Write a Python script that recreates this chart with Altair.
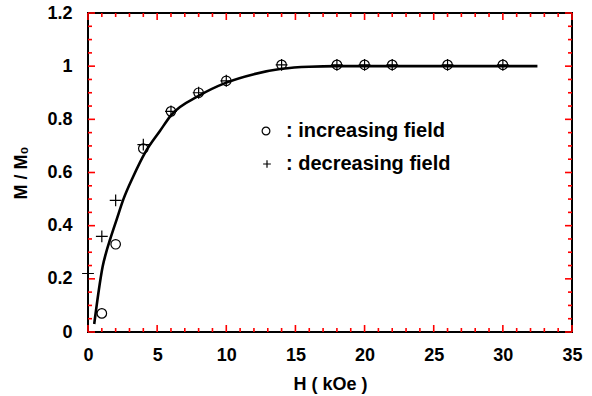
import altair as alt
import pandas as pd

# measured data: increasing field (circles)
inc_H = [1, 2, 4, 6, 8, 10, 14, 18, 20, 22, 26, 30]
inc_M = [0.07, 0.33, 0.69, 0.83, 0.90, 0.945, 1.005, 1.005, 1.005, 1.005, 1.005, 1.005]
# decreasing field (crosses)
dec_H = [0, 1, 2, 4, 6, 8, 10, 14, 18, 20, 22, 26, 30]
dec_M = [0.22, 0.36, 0.495, 0.705, 0.83, 0.90, 0.945, 1.005, 1.005, 1.005, 1.005, 1.005, 1.005]
# fitted curve
fit_H = [0.45, 0.75, 1.06, 1.3, 1.59, 2.07, 2.55, 3.28, 4.12, 5.2, 6.0, 8.0, 10.0, 12.0, 14.0, 16.0, 18.0, 24.0, 32.5]
fit_M = [0.03, 0.146, 0.246, 0.297, 0.347, 0.423, 0.498, 0.586, 0.674, 0.756, 0.815, 0.888, 0.938, 0.970, 0.99, 0.998, 1.0, 1.0, 1.0]

legend_labels = [": increasing field", ": decreasing field"]
x_major = [0, 5, 10, 15, 20, 25, 30, 35]
x_minor = [v for v in range(0, 36) if v % 5 != 0]
y_major = [0, 0.2, 0.4, 0.6, 0.8, 1.0, 1.2]
y_minor = [0.05, 0.1, 0.15, 0.25, 0.3, 0.35, 0.45, 0.5, 0.55, 0.65, 0.7, 0.75,
           0.85, 0.9, 0.95, 1.05, 1.1, 1.15]

W, HGT = 484, 319
MAJ, MIN = 7, 4
PLUS = "M-1,0H1M0,-1V1"

inc_df = pd.DataFrame({"H": inc_H, "M": inc_M})
dec_df = pd.DataFrame({"H": dec_H, "M": dec_M})
fit_df = pd.DataFrame({"H": fit_H, "M": fit_M})

FONT = "Liberation Sans"
xs = alt.Scale(domain=[0, 35], nice=False, zero=False)
ys = alt.Scale(domain=[0, 1.2], nice=False, zero=False)

base = dict(domain=False, grid=False, ticks=False,
            labelOverlap=False, labelFlush=False,
            labelFont=FONT, labelFontWeight="bold", labelColor="black",
            titleFont=FONT, titleFontWeight="bold", titleColor="black")

x_axis = alt.Axis(values=x_major, labelFontSize=18, labelPadding=14,
                  title="H ( kOe )", titleFontSize=18, titlePadding=11, **base)
y_axis = alt.Axis(values=y_major, format="~g", labelFontSize=18, labelPadding=16,
                  title="M / M₀", titleFontSize=18, titlePadding=16, **base)


def xticks(vals, length):
    df = pd.DataFrame({"H": vals})
    bot = alt.Chart(df).mark_rule(color="red", strokeWidth=1.6).encode(
        x=alt.X("H:Q", scale=xs), y=alt.value(HGT), y2=alt.value(HGT - length))
    top = alt.Chart(df).mark_rule(color="red", strokeWidth=1.6).encode(
        x=alt.X("H:Q", scale=xs), y=alt.value(0), y2=alt.value(length))
    return [bot, top]


def yticks(vals, length):
    df = pd.DataFrame({"M": vals})
    left = alt.Chart(df).mark_rule(color="red", strokeWidth=1.6).encode(
        y=alt.Y("M:Q", scale=ys), x=alt.value(0), x2=alt.value(length))
    right = alt.Chart(df).mark_rule(color="red", strokeWidth=1.6).encode(
        y=alt.Y("M:Q", scale=ys), x=alt.value(W), x2=alt.value(W - length))
    return [left, right]


tick_layers = (xticks(x_major, MAJ) + xticks(x_minor, MIN)
               + yticks(y_major, MAJ) + yticks(y_minor, MIN))

line = alt.Chart(fit_df).mark_line(color="black", strokeWidth=2.6, interpolate="monotone").encode(
    x=alt.X("H:Q", scale=xs, axis=x_axis),
    y=alt.Y("M:Q", scale=ys, axis=y_axis),
)
circ = alt.Chart(inc_df).mark_point(shape="circle", filled=False, color="black",
                                    strokeWidth=1.2, size=90, opacity=1).encode(
    x=alt.X("H:Q", scale=xs), y=alt.Y("M:Q", scale=ys))
plus = alt.Chart(dec_df).mark_point(shape=PLUS, filled=False, color="black",
                                    strokeWidth=1.2, size=140, opacity=1).encode(
    x=alt.X("H:Q", scale=xs), y=alt.Y("M:Q", scale=ys))

# legend annotation (symbols + labels)
lg_df = pd.DataFrame({"label": legend_labels})
lg_circ = alt.Chart(lg_df.iloc[[0]]).mark_point(shape="circle", filled=False, color="black",
                                               strokeWidth=1.2, size=60, opacity=1).encode(
    x=alt.value(178), y=alt.value(118))
lg_plus = alt.Chart(lg_df.iloc[[1]]).mark_point(shape=PLUS, filled=False, color="black",
                                               strokeWidth=1.2, size=60, opacity=1).encode(
    x=alt.value(179), y=alt.value(151))
lg_t1 = alt.Chart(lg_df.iloc[[0]]).mark_text(align="left", baseline="middle", font=FONT,
                                            fontWeight="bold", fontSize=20, color="black").encode(
    x=alt.value(198), y=alt.value(118), text="label:N")
lg_t2 = alt.Chart(lg_df.iloc[[1]]).mark_text(align="left", baseline="middle", font=FONT,
                                            fontWeight="bold", fontSize=20, color="black").encode(
    x=alt.value(198), y=alt.value(151), text="label:N")

chart = alt.layer(line, *tick_layers, circ, plus, lg_circ, lg_plus, lg_t1, lg_t2).properties(
    width=W, height=HGT,
    padding={"left": 88, "top": 13, "right": 20, "bottom": 64},
    autosize=alt.AutoSizeParams(type="none"),
).configure_view(stroke="black", strokeWidth=2)

chart.save("out.html", embed_options={"renderer": "svg", "actions": False})
